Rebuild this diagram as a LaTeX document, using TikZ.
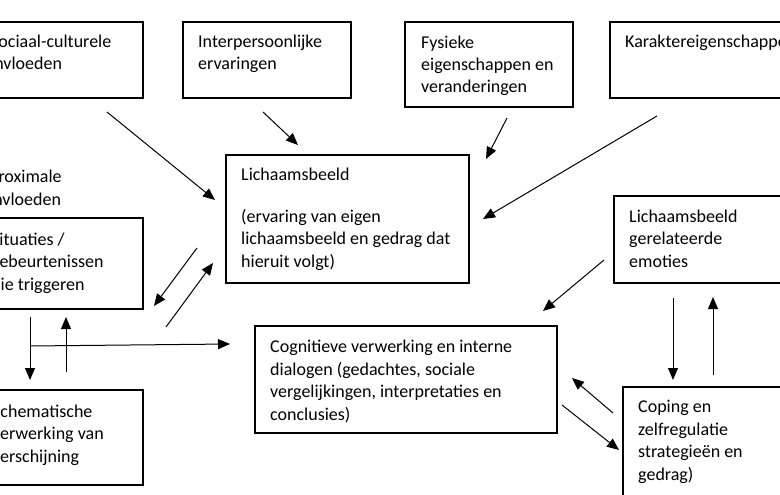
\documentclass[tikz,border=0pt]{standalone}
\usepackage{fontspec}
\setmainfont{Carlito}
\usetikzlibrary{arrows.meta}
\tikzset{
  box/.style={draw, line width=2pt, anchor=north west, inner sep=0pt, outer sep=0pt},
  txt/.style={anchor=base west, align=left, inner sep=0pt, font=\fontsize{18}{22.5}\selectfont},
  arr/.style={line width=1pt, -{Triangle[length=12pt,width=10pt]}}
}
\begin{document}
\begin{tikzpicture}[x=1pt, y=-1pt]
		%%%%% FRAME %%%%%
		\useasboundingbox (0,0) rectangle (780,495);
		\clip (0,0) rectangle (780,495);
		\fill[white] (0,0) rectangle (780,495);
		
		%%%%% BOXES %%%%%
		\node[box, minimum width=168pt, minimum height=76pt] (sc) at (-25,22) {};
		\node[box, minimum width=168pt, minimum height=76pt] (ip) at (183,22) {};
		\node[box, minimum width=168pt, minimum height=85pt] (fy) at (405,22) {};
		\node[box, minimum width=200pt, minimum height=76pt] (ka) at (610,22) {};
		\node[box, minimum width=243pt, minimum height=128pt] (lb) at (226,155) {};
		\node[box, minimum width=166pt, minimum height=91pt] (si) at (-23,218) {};
		\node[box, minimum width=200pt, minimum height=87pt] (em) at (614,196) {};
		\node[box, minimum width=166pt, minimum height=95pt] (sv) at (-23,390) {};
		\node[box, minimum width=302pt, minimum height=107pt] (cv) at (255,326) {};
		\node[box, minimum width=200pt, minimum height=130pt] (co) at (623,387) {};
		
		%%%%% TEXTS (base = last line) %%%%%
		\node[txt] (sc-t) at (-10,70) {Sociaal-culturele\\invloeden};
		\node[txt] (ip-t) at (198,70) {Interpersoonlijke\\ervaringen};
		\node[txt] (fy-t) at (421,93) {Fysieke\\eigenschappen en\\veranderingen};
		\node[txt] (ka-t) at (625,48) {Karaktereigenschappen};
		\node[txt] (lb-t) at (241,267) {Lichaamsbeeld\\[19.5pt](ervaring van eigen\\lichaamsbeeld en gedrag dat\\hieruit volgt)};
		\node[txt] (px-t) at (-11,205) {Proximale\\invloeden};
		\node[txt] (si-t) at (-9,290) {Situaties /\\gebeurtenissen\\die triggeren};
		\node[txt] (em-t) at (629,267) {Lichaamsbeeld\\gerelateerde\\emoties};
		\node[txt] (sv-t) at (-8,462) {Schematische\\verwerking van\\verschijning};
		\node[txt] (cv-t) at (270,420) {Cognitieve verwerking en interne\\dialogen (gedachtes, sociale\\vergelijkingen, interpretaties en\\conclusies)};
		\node[txt] (co-t) at (638,480) {Coping en\\zelfregulatie\\strategieën en\\gedrag)};
		
		%%%%% ARROW ENDS %%%%%
		\coordinate (sc-a) at (107,112); \coordinate (sc-b) at (215,200);
		\coordinate (ip-a) at (263,112); \coordinate (ip-b) at (298,145);
		\coordinate (fy-a) at (507,118); \coordinate (fy-b) at (486,159);
		\coordinate (ka-a) at (657,116); \coordinate (ka-b) at (483,219);
		\coordinate (lb-a) at (197,248); \coordinate (lb-b) at (154,306);
		\coordinate (si-a) at (166,327); \coordinate (si-b) at (213,263);
		\coordinate (dn-a) at (30,317);  \coordinate (dn-b) at (30,380);
		\coordinate (up-a) at (66,372);  \coordinate (up-b) at (66,317);
		\coordinate (hz-a) at (30,346);  \coordinate (hz-b) at (230,344);
		\coordinate (em-a) at (604,260); \coordinate (em-b) at (543,311);
		\coordinate (ed-a) at (673,298); \coordinate (ed-b) at (673,380);
		\coordinate (eu-a) at (713,375); \coordinate (eu-b) at (713,297);
		\coordinate (co-a) at (613,413); \coordinate (co-b) at (572,378);
		\coordinate (cv-a) at (562,405); \coordinate (cv-b) at (619,450);
		
		%%%%% ARROWS %%%%%
		\draw[arr] (sc-a) -- (sc-b);
		\draw[arr] (ip-a) -- (ip-b);
		\draw[arr] (fy-a) -- (fy-b);
		\draw[arr] (ka-a) -- (ka-b);
		\draw[arr] (lb-a) -- (lb-b);
		\draw[arr] (si-a) -- (si-b);
		\draw[arr] (dn-a) -- (dn-b);
		\draw[arr] (up-a) -- (up-b);
		\draw[arr] (hz-a) -- (hz-b);
		\draw[arr] (em-a) -- (em-b);
		\draw[arr] (ed-a) -- (ed-b);
		\draw[arr] (eu-a) -- (eu-b);
		\draw[arr] (co-a) -- (co-b);
		\draw[arr] (cv-a) -- (cv-b);
\end{tikzpicture}
\end{document}
